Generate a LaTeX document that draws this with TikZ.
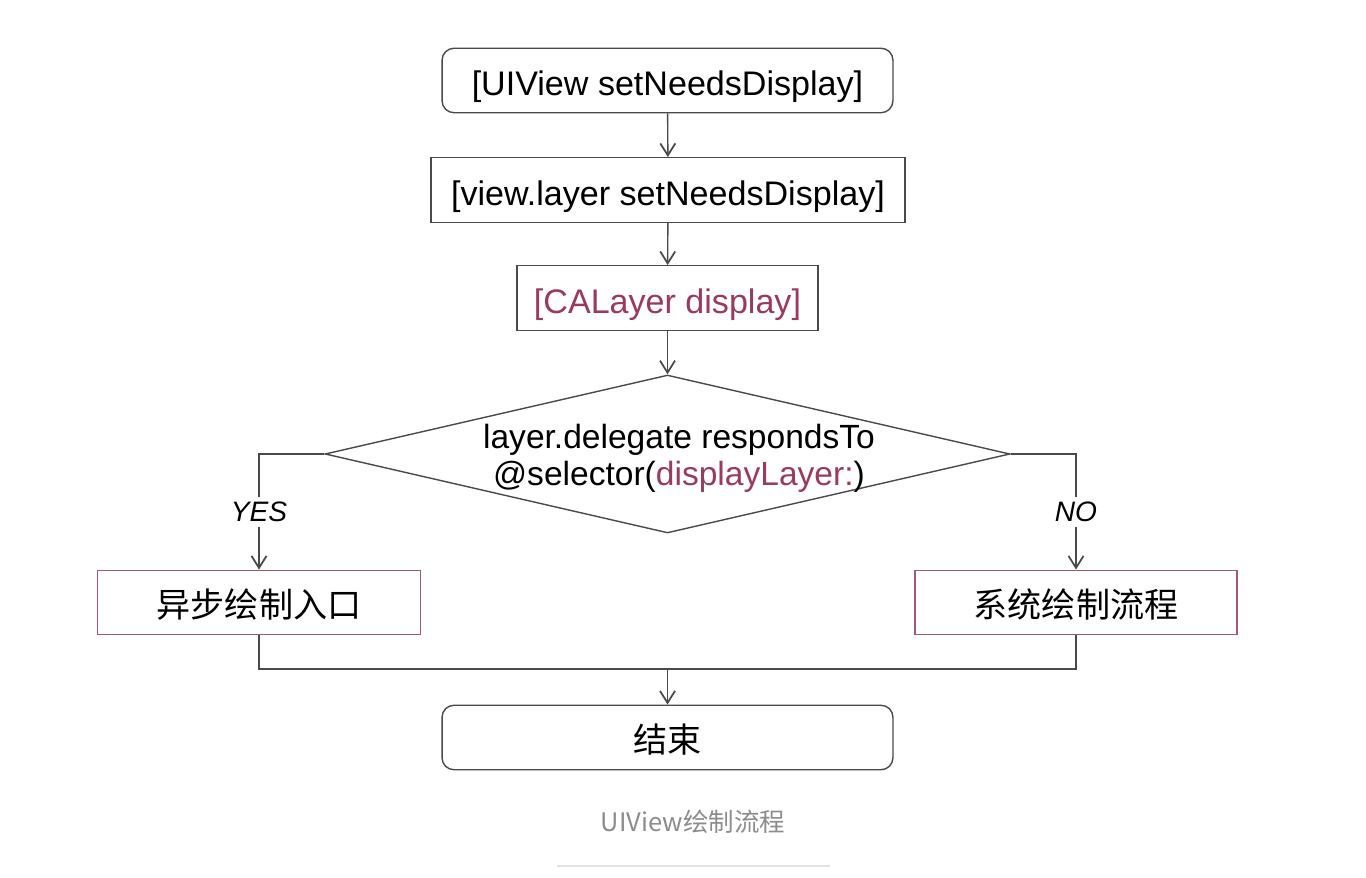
\documentclass[tikz,border=0pt]{standalone}
\usepackage{fontspec}
\setmainfont{Liberation Sans}
\newfontfamily\cjk{Noto Sans CJK SC}
\usetikzlibrary{shapes.geometric,arrows.meta}
\definecolor{lineGray}{HTML}{4A4A4A}
\definecolor{selRed}{HTML}{9C3A5C}
\definecolor{boxRed}{HTML}{A65874}
\definecolor{capGray}{HTML}{8C8C8C}
\definecolor{ruleGray}{HTML}{E2E2E2}

\begin{document}
\begin{tikzpicture}[x=0.02cm, y=-0.02cm, line width=0.8pt,
  font=\fontsize{19.4}{21}\selectfont,
  box/.style={shape=rectangle, draw=lineGray, minimum height=1.29cm, inner sep=0pt, text height=18pt, text depth=0.8pt},
  rbox/.style={box, rounded corners=0.24cm},
  redbox/.style={box, draw=boxRed},
  decision/.style={shape=diamond, draw=lineGray, minimum width=13.7cm, minimum height=3.16cm, inner sep=0pt},
  flow/.style={draw=lineGray, -{Straight Barb[length=2.4mm, width=3mm, line width=1pt]}},
  answer/.style={fill=white, inner sep=3pt, font=\fontsize{16}{19}\selectfont\itshape}]
%%%%%%%%%%%%%%%%%%%%%%%%%%%%%%%%%%%%%%%%%%% HELP LINES
%\draw[help lines, step=50] (0,0) grid (1366,878);
\useasboundingbox (0,0) rectangle (1366,878);

%%%%%%%%%%%%%%%%%%%%%%%%%%%%%%%%%%%%%%%%%%% elements
\node[rbox, minimum width=9.02cm] (uiview) at (667.5,80.5) {[UIView setNeedsDisplay]};
\node[box, minimum width=9.48cm] (viewlayer) at (668,190) {[view.layer setNeedsDisplay]};
\node[box, minimum width=6.02cm, text=selRed] (cadisplay) at (667.5,298) {[CALayer display]};
\node[decision] (ask) at (667.5,454) {};
\node[align=center, font=\fontsize{19.1}{21}\selectfont] (asktext) at (679,458.5) {layer.delegate respondsTo\\@selector(\textcolor{selRed}{displayLayer:})};
\node[redbox, minimum width=6.46cm, font=\fontsize{19.4}{21}\selectfont\cjk] (async) at (259,602.5) {异步绘制入口};
\node[redbox, minimum width=6.44cm, font=\fontsize{19.4}{21}\selectfont\cjk] (sysdraw) at (1076,602.5) {系统绘制流程};
\node[rbox, minimum width=9.02cm, font=\fontsize{19.4}{21}\selectfont\cjk] (finish) at (667.5,737.5) {结束};
\coordinate (merge) at (667.5,669);

%%%%% caption
\node[text=capGray, font=\fontsize{14.5}{16}\selectfont\cjk] (caption) at (693,822) {UIView绘制流程};
\draw[ruleGray, line width=1pt] (557,866) -- (830,866);

%%%%% edges
\draw[flow] (uiview) -- (viewlayer);
\draw[flow] (viewlayer) -- (cadisplay);
\draw[flow] (cadisplay) -- (ask.north);
\draw[flow] (ask.west) -| node[answer, pos=0.75]{YES} (async.north);
\draw[flow] (ask.east) -| node[answer, pos=0.75]{NO} (sysdraw.north);
\draw[draw=lineGray] (async.south) |- (merge) -| (sysdraw.south);
\draw[flow] (merge) -- (finish);
\end{tikzpicture}
\end{document}
